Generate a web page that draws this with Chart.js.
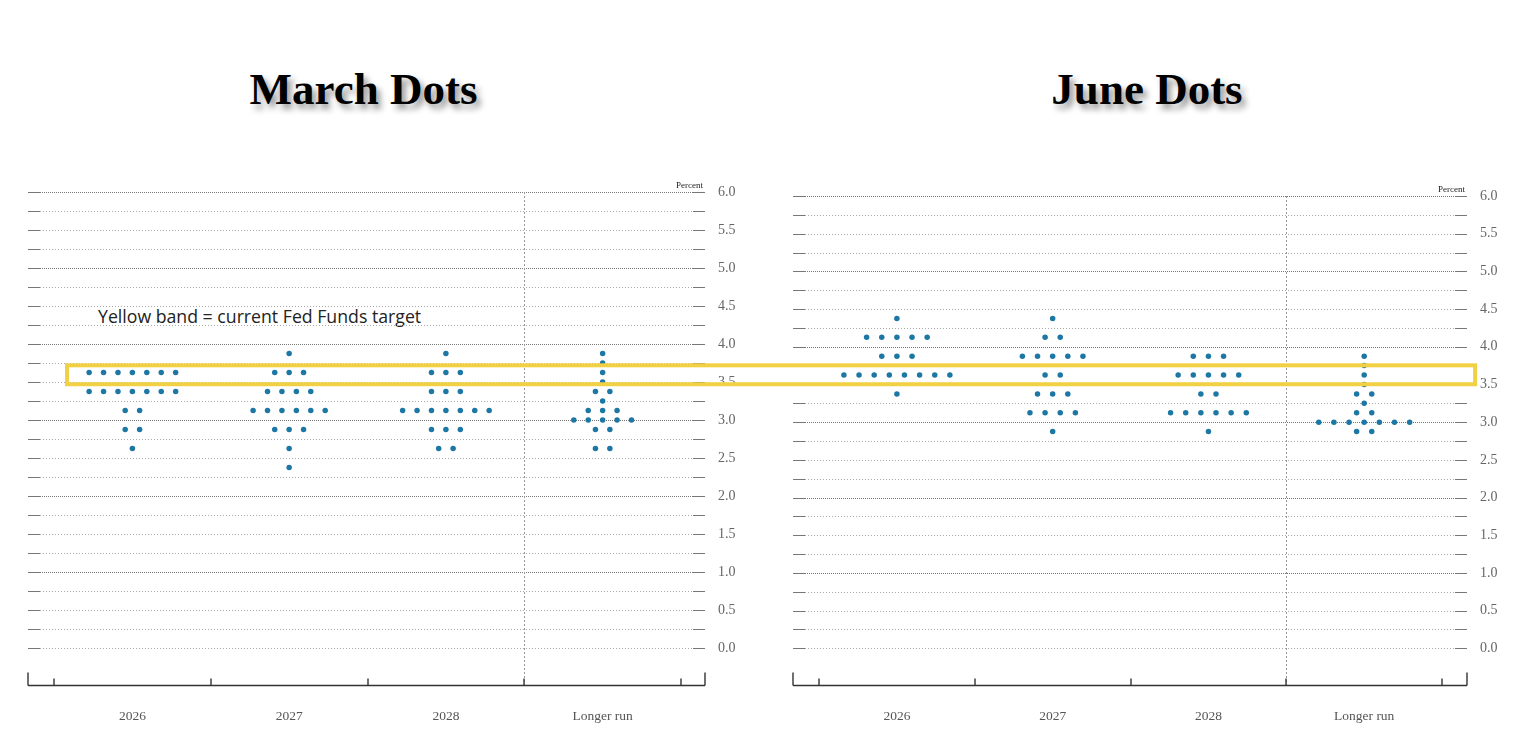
<!DOCTYPE html>
<html>
<head>
<meta charset="utf-8">
<script src="https://cdn.jsdelivr.net/npm/chart.js@4"></script>
<style>
  html, body { margin:0; padding:0; background:#fff; }
  body { width:1538px; height:741px; overflow:hidden; position:relative; }
  .title { position:absolute; top:67px; font-family:'Liberation Serif', serif; font-weight:bold; font-size:45px;
           line-height:45px; color:#000; white-space:nowrap; transform:translateX(-50%);
           text-shadow: 4px 5px 6px rgba(0,0,0,0.42); }
  .note { position:absolute; left:98px; top:305px; font-family:'Open Sans', sans-serif; font-size:17.7px;
          line-height:22px; color:#222; white-space:nowrap; }
  canvas { position:absolute; }
  #overlay { left:0; top:0; z-index:5; pointer-events:none; }
</style>
</head>
<body>
<div class="title" style="left:363.5px">March Dots</div>
<div class="title" style="left:1147px">June Dots</div>
<div class="note">Yellow band = current Fed Funds target</div>
<canvas id="march" width="770" height="571" style="left:0;top:170px;width:770px;height:571px"></canvas>
<canvas id="june" width="768" height="571" style="left:770px;top:170px;width:768px;height:571px"></canvas>
<canvas id="overlay"></canvas>
<script>
// ---- data: [rate midpoint, number of participants] ----
const categories = ['2026', '2027', '2028', 'Longer run'];

const march2026   = [[3.625,7],[3.375,7],[3.125,2],[2.875,2],[2.625,1]];
const march2027   = [[3.875,1],[3.625,3],[3.375,4],[3.125,6],[2.875,3],[2.625,1],[2.375,1]];
const march2028   = [[3.875,1],[3.625,3],[3.375,3],[3.125,7],[2.875,3],[2.625,2]];
const marchLonger = [[3.875,1],[3.75,1],[3.625,1],[3.5,1],[3.375,2],[3.25,1],[3.125,3],[3.0,5],[2.875,2],[2.625,2]];

const june2026   = [[4.375,1],[4.125,5],[3.875,3],[3.625,8],[3.375,1]];
const june2027   = [[4.375,1],[4.125,2],[3.875,5],[3.625,2],[3.375,3],[3.125,4],[2.875,1]];
const june2028   = [[3.875,3],[3.625,5],[3.375,2],[3.125,6],[2.875,1]];
const juneLonger = [[3.875,1],[3.75,1],[3.625,1],[3.5,1],[3.375,2],[3.25,1],[3.125,2],[3.0,7],[2.875,2]];

const fedTargetBand = [3.5, 3.75];
const yMin = -0.5, yMax = 6, yLabelStep = 0.5, gridStep = 0.25;

// ---- styles ----
const DOT = '#1c77a4';
const SERIF = "'Liberation Serif', serif";

const gridPlugin = {
  id: 'fedGrid',
  beforeDatasetsDraw(chart) {
    const { ctx, chartArea: { left, right, top, bottom }, scales: { x, y } } = chart;
    ctx.save();
    for (let v = 0; v <= yMax + 1e-9; v += gridStep) {
      const yp = Math.round(y.getPixelForValue(v)) + 0.5;
      const major = Math.abs(v - Math.round(v)) < 1e-9 && v > 0;
      ctx.lineWidth = 1;
      ctx.strokeStyle = major ? '#777' : '#a8a8a8';
      ctx.setLineDash(major ? [1, 1] : [1, 2]);
      ctx.beginPath(); ctx.moveTo(left + 12, yp); ctx.lineTo(right - 12, yp); ctx.stroke();
      ctx.setLineDash([]);
      ctx.strokeStyle = '#777';
      ctx.beginPath();
      ctx.moveTo(left, yp); ctx.lineTo(left + 12, yp);
      ctx.moveTo(right - 12, yp); ctx.lineTo(right, yp);
      ctx.stroke();
    }
    // separator before "Longer run"
    const xs = Math.round(x.getPixelForValue(2.5)) + 0.5;
    ctx.strokeStyle = '#999';
    ctx.setLineDash([2, 2]);
    ctx.beginPath(); ctx.moveTo(xs, top); ctx.lineTo(xs, bottom); ctx.stroke();
    ctx.setLineDash([]);
    // "Percent"
    ctx.fillStyle = '#222';
    ctx.font = "9px " + SERIF;
    ctx.textAlign = 'right';
    ctx.textBaseline = 'alphabetic';
    ctx.fillText('Percent', right - 2, top - 4);
    ctx.restore();
  },
  afterDraw(chart) {
    const { ctx, chartArea: { left, right, bottom }, scales: { x } } = chart;
    ctx.save();
    ctx.strokeStyle = '#333';
    ctx.lineWidth = 1.4;
    const yb = Math.round(bottom) - 0.5;
    ctx.beginPath();
    ctx.moveTo(left, yb); ctx.lineTo(right, yb);
    ctx.moveTo(left, yb - 13); ctx.lineTo(left, yb);
    ctx.moveTo(right, yb - 13); ctx.lineTo(right, yb);
    for (let i = 0; i <= categories.length; i++) {
      const xp = Math.round(x.getPixelForValue(i - 0.5));
      ctx.moveTo(xp, yb - 7); ctx.lineTo(xp, yb);
    }
    ctx.stroke();
    ctx.restore();
  }
};

function makeChart(id, groups, o) {
  const data = [];
  groups.forEach((rows, i) => rows.forEach(([v, n]) => {
    for (let j = 0; j < n; j++) data.push({ x: i + (j - (n - 1) / 2) * o.spacing, y: v });
  }));
  return new Chart(document.getElementById(id), {
    type: 'scatter',
    data: { datasets: [{ data, pointRadius: 2.75, pointHoverRadius: 2.75,
      pointBackgroundColor: DOT, pointBorderColor: DOT, pointBorderWidth: 0 }] },
    options: {
      responsive: false, animation: false, events: [],
      layout: { padding: { left: o.padL, top: o.padT, right: o.padR, bottom: 0 } },
      plugins: { legend: { display: false }, tooltip: { enabled: false } },
      scales: {
        x: {
          type: 'linear', position: 'bottom', min: o.xMin, max: o.xMax,
          grid: { display: false, drawTicks: false }, border: { display: false },
          afterBuildTicks: s => { s.ticks = categories.map((c, i) => ({ value: i })); },
          ticks: { autoSkip: false, maxRotation: 0, padding: 22, color: '#555',
                   font: { family: SERIF, size: 13.5 },
                   callback: v => categories[v] ?? '' },
          afterFit: s => { s.height = 55; }
        },
        y: {
          type: 'linear', position: 'right', min: yMin, max: yMax,
          grid: { display: false, drawTicks: false }, border: { display: false },
          ticks: { stepSize: yLabelStep, padding: 13, color: '#666',
                   font: { family: SERIF, size: 14 },
                   callback: v => v < 0 ? '' : Number(v).toFixed(1) },
          afterFit: s => { s.width = 45; }
        }
      }
    },
    plugins: [gridPlugin]
  });
}

const marchChart = makeChart('march', [march2026, march2027, march2028, marchLonger],
  { padL: 28, padT: 22, padR: 20, xMin: -0.666, xMax: 3.653, spacing: 0.092 });
const juneChart = makeChart('june', [june2026, june2027, june2028, juneLonger],
  { padL: 23, padT: 26, padR: 26, xMin: -0.667, xMax: 3.66, spacing: 0.0972 });

// ---- yellow band spanning both panels ----
function drawBand() {
  const cv = document.getElementById('overlay');
  const dpr = window.devicePixelRatio || 1;
  cv.width = 1538 * dpr; cv.height = 741 * dpr;
  cv.style.width = '1538px'; cv.style.height = '741px';
  const ctx = cv.getContext('2d');
  ctx.scale(dpr, dpr);
  const off = 170;
  const yHi = (marchChart.scales.y.getPixelForValue(fedTargetBand[1]) + juneChart.scales.y.getPixelForValue(fedTargetBand[1])) / 2 + off + 1;
  const yLo = (marchChart.scales.y.getPixelForValue(fedTargetBand[0]) + juneChart.scales.y.getPixelForValue(fedTargetBand[0])) / 2 + off + 1;
  const xL = marchChart.scales.x.getPixelForValue(-0.417);
  const xR = 770 + juneChart.scales.x.getPixelForValue(3.712);
  ctx.strokeStyle = '#f2d044';
  ctx.lineWidth = 4;
  ctx.strokeRect(xL, yHi, xR - xL, yLo - yHi);
}
drawBand();
</script>
</body>
</html>
